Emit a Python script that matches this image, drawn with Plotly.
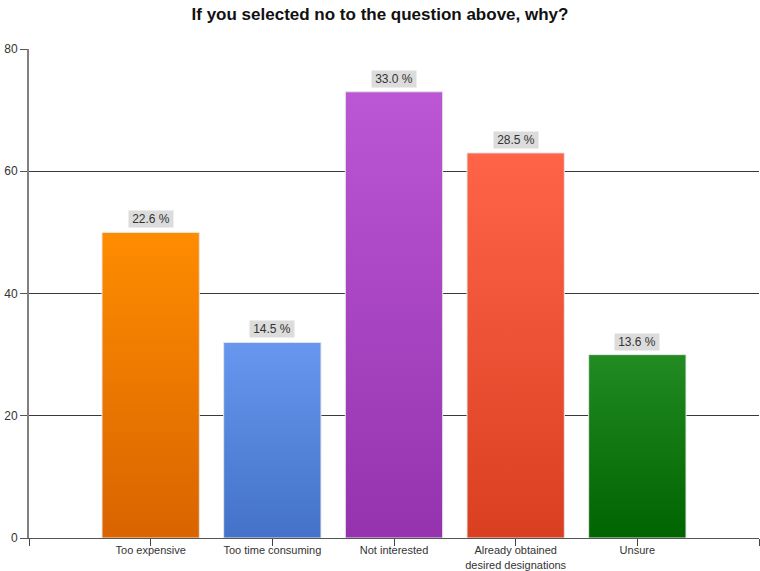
import plotly.graph_objects as go

# Survey responses: why respondents said "no"
categories = ["Too expensive", "Too time consuming", "Not interested",
              "Already obtained<br>desired designations", "Unsure"]
counts = [50, 32, 73, 63, 30]
respondents = 221
percent_labels = [f"{c / respondents * 100:.1f} %" for c in counts]

# gradient (bottom, top) colours for each bar
bar_bottom = ["#D96400", "#4372C8", "#9533AE", "#DA3F22", "#006400"]
bar_top = ["#FF8C00", "#6797EE", "#BB56D4", "#FF6448", "#228B22"]

y_ticks = [0, 20, 40, 60, 80]
half_width = 0.4

fig = go.Figure()

for i, (cat, val) in enumerate(zip(categories, counts)):
    x0, x1 = i - half_width, i + half_width
    fig.add_trace(go.Scatter(
        x=[x0, x0, x1, x1, x0],
        y=[0, val, val, 0, 0],
        mode="lines",
        fill="toself",
        line=dict(color="#E6E6E6", width=1),
        fillgradient=dict(type="vertical",
                          colorscale=[[0, bar_bottom[i]], [1, bar_top[i]]]),
        hoverinfo="skip",
        showlegend=False,
    ))
    fig.add_annotation(
        x=i, y=val, text=percent_labels[i],
        showarrow=False, yanchor="bottom", yshift=4,
        bgcolor="#DCDCDC", borderpad=1, width=42,
        font=dict(family="Liberation Sans, Arial, sans-serif", size=12, color="#333333"),
    )

fig.update_layout(
    width=760, height=571,
    margin=dict(l=29, r=1, t=49, b=33),
    paper_bgcolor="white",
    plot_bgcolor="white",
    title=dict(
        text="If you selected no to the question above, why?",
        x=0.5, xanchor="center", y=0.976, yanchor="middle",
        font=dict(family="Liberation Sans, Arial, sans-serif", size=17,
                  color="#111111", weight="bold"),
    ),
    xaxis=dict(
        range=[-1, 5],
        tickvals=list(range(-1, 6)),
        ticktext=[""] + categories + [""],
        ticks="outside", ticklen=7, tickcolor="#444444", tickwidth=1,
        ticklabelstandoff=-5,
        showline=True, linecolor="#555555", linewidth=1,
        showgrid=False, zeroline=False, automargin=False,
        tickfont=dict(family="Liberation Sans, Arial, sans-serif", size=11, color="#333333"),
    ),
    yaxis=dict(
        range=[0, 80],
        tickvals=y_ticks,
        ticks="outside", ticklen=7, tickcolor="#555555", tickwidth=1,
        showline=True, linecolor="#808080", linewidth=2,
        showgrid=True, gridcolor="#3A3A3A", gridwidth=1,
        zeroline=False, automargin=False,
        tickfont=dict(family="Liberation Sans, Arial, sans-serif", size=12, color="#333333"),
    ),
)

fig.write_html("out.html")
